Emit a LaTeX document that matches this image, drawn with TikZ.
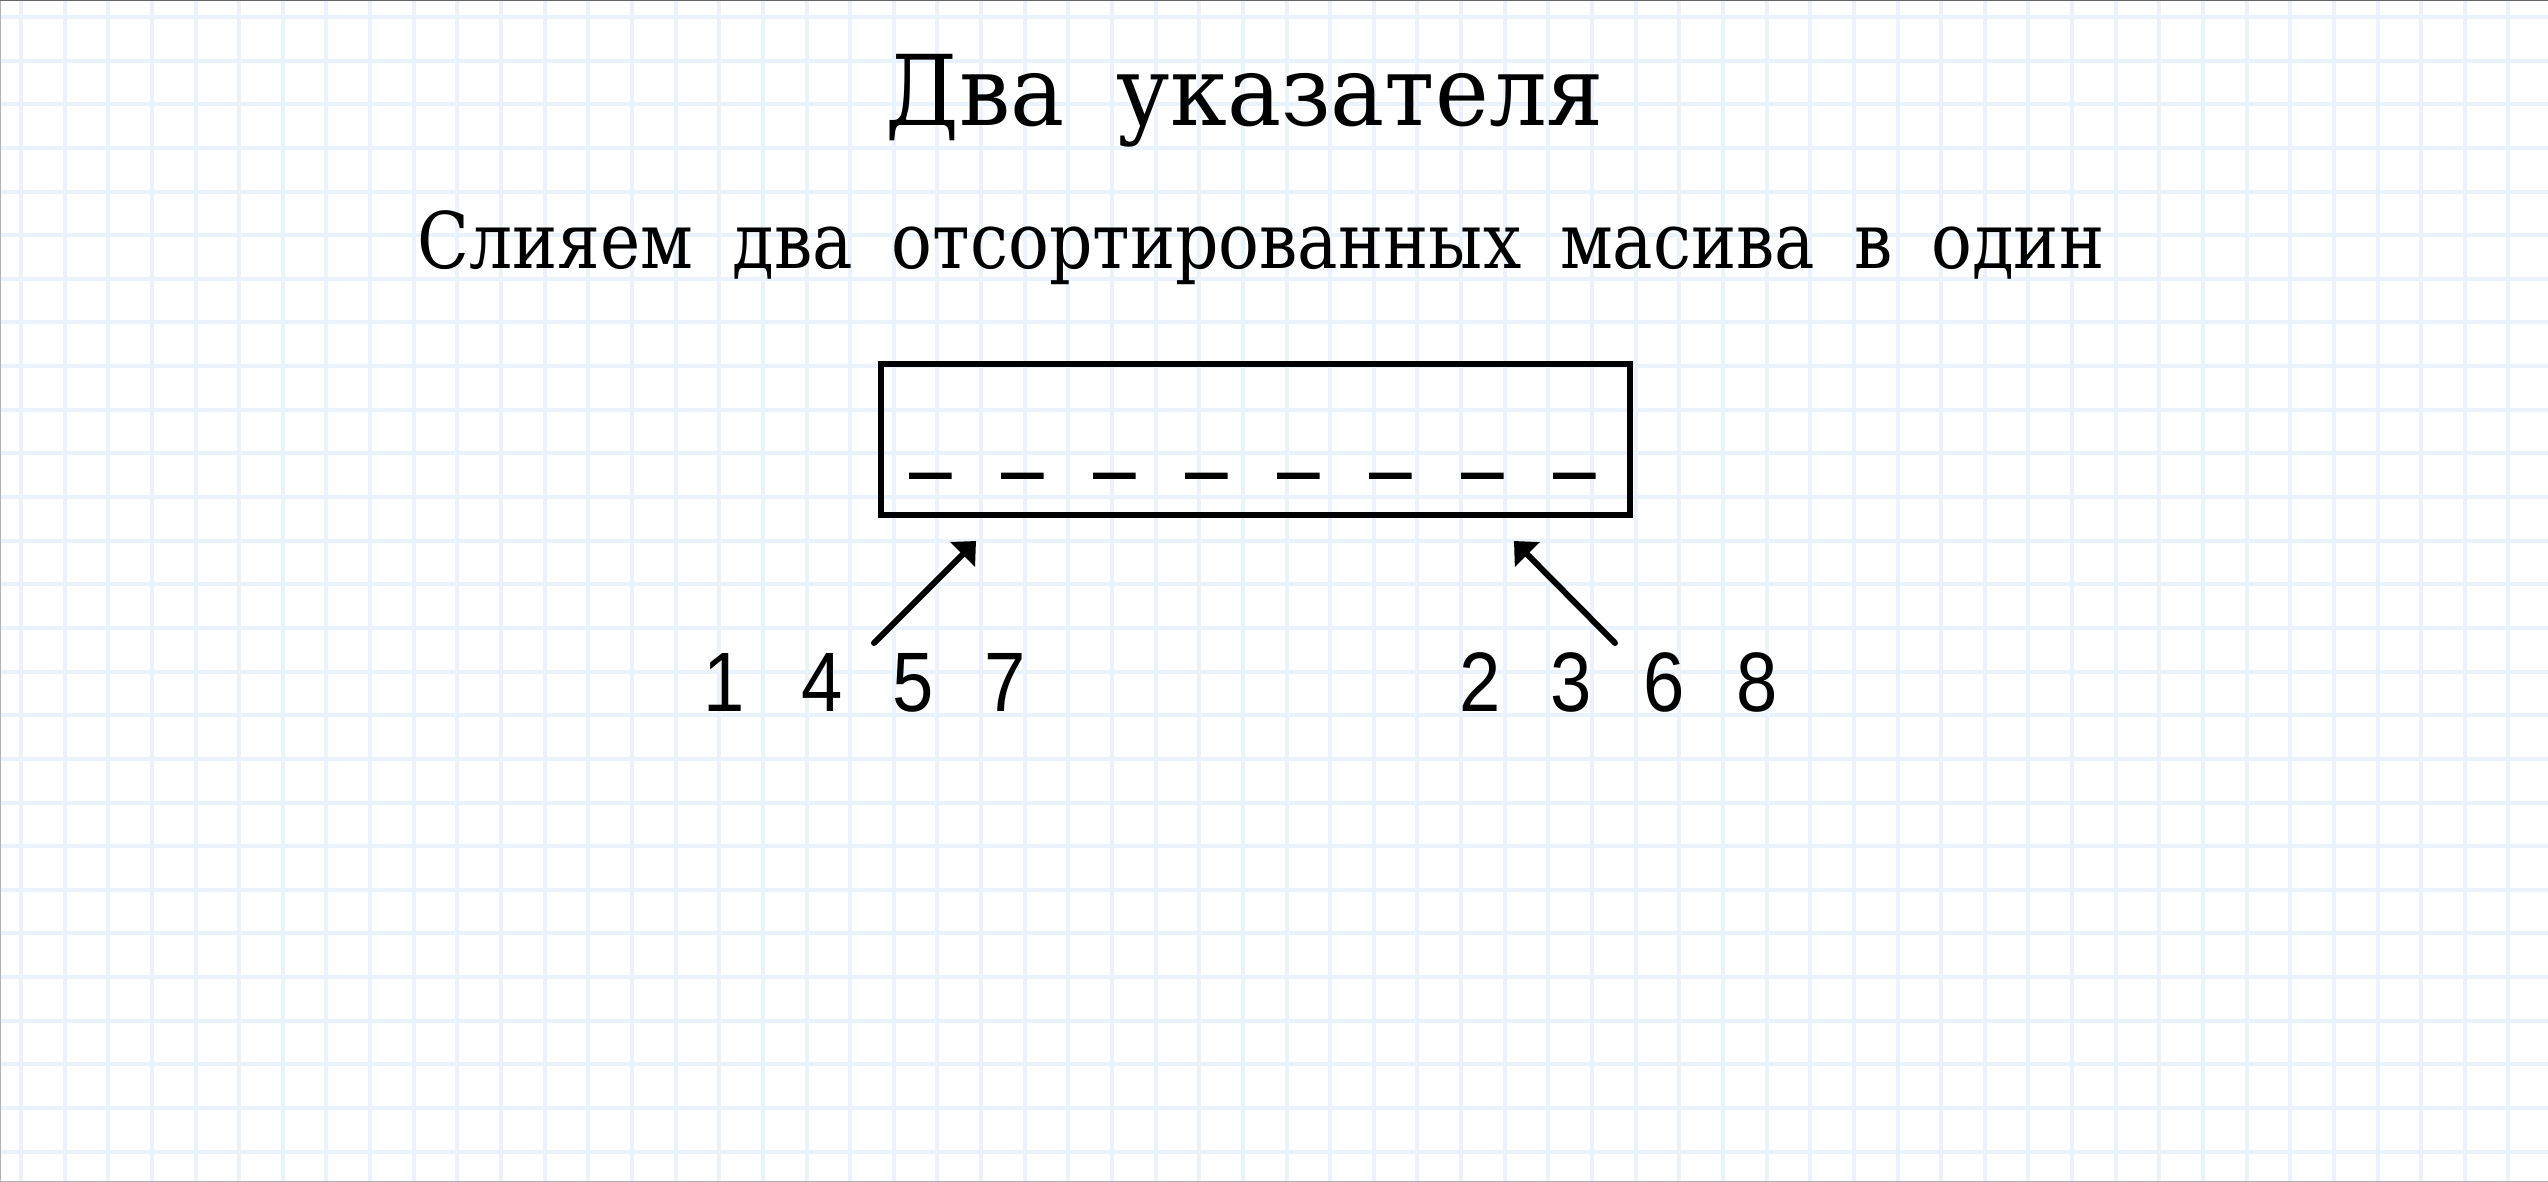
\documentclass[tikz,border=0pt]{standalone}
\usepackage{fontspec}
\setmainfont{DejaVu Serif}[FakeStretch=0.87, WordSpace=1.8]
\newfontfamily\titlefont{DejaVu Serif}[FakeStretch=0.93, WordSpace=1.8]
\newfontfamily\numfont{Liberation Sans}[FakeStretch=0.88]
\newfontfamily\slotfont{Liberation Sans}[FakeBold=2.5]
\usetikzlibrary{arrows.meta}
\definecolor{gridblue}{HTML}{EAF3FD}

\begin{document}
\begin{tikzpicture}[x=0.1mm, y=-0.1mm,
	gridline/.style={draw=gridblue, line width=0.4mm},
	titletext/.style={anchor=base, inner sep=0pt, font=\titlefont\fontsize{27.8}{33}\selectfont},
	subtext/.style={anchor=base, inner sep=0pt, font=\fontsize{22.2}{27}\selectfont},
	arraybox/.style={draw, line width=0.6mm, inner sep=0pt, minimum width=74.9mm, minimum height=15.1mm},
	slot/.style={anchor=base, inner sep=0pt, font=\slotfont\fontsize{19.9}{24}\selectfont},
	digit/.style={anchor=base, inner sep=0pt, font=\numfont\fontsize{24}{29}\selectfont},
	ptrarrow/.style={line width=0.6mm, line cap=round, -{Triangle[width=3.4mm, length=1.9mm]}}]
	\useasboundingbox (0,0) rectangle (2548,1182);
	\fill[white] (0,0) rectangle (2548,1182);
	
	% squared paper
	\foreach \k in {0,...,57}
	\draw[gridline] (21+43.64*\k, 0) -- (21+43.64*\k, 1182);
	\foreach \k in {0,...,26}
	\draw[gridline] (0, 17+43.64*\k) -- (2548, 17+43.64*\k);
	\draw[gray!60, line width=0.15mm] (2548,1181.5) -- (0.5,1181.5) -- (0.5,0.5);
	\draw[gray!80!black, line width=0.15mm] (0,0.5) -- (2548,0.5);
	
	\node[titletext] (title) at (1245,125) {Два указателя};
	\node[subtext] (subtitle) at (1261,268) {Слияем два отсортированных масива в один};
	
	\node[arraybox] (merged) at (1255.5,439.5) {};
	\foreach \k in {0,...,7}
	\node[slot] (slot\k) at (930.5+92*\k, 464) {\_};
	
	\foreach \n\x in {1/724, 4/822, 5/913, 7/1005}
	\node[digit] (left\n) at (\x, 711) {\n};
	\foreach \n\x in {2/1480, 3/1571, 6/1664, 8/1757}
	\node[digit] (right\n) at (\x, 711) {\n};
	
	\coordinate (tailA) at (874,643);
	\coordinate (tipA) at (976,541);
	\coordinate (tailB) at (1615,643);
	\coordinate (tipB) at (1514,541);
	\draw[ptrarrow] (tailA) -- (tipA);
	\draw[ptrarrow] (tailB) -- (tipB);
\end{tikzpicture}
\end{document}
